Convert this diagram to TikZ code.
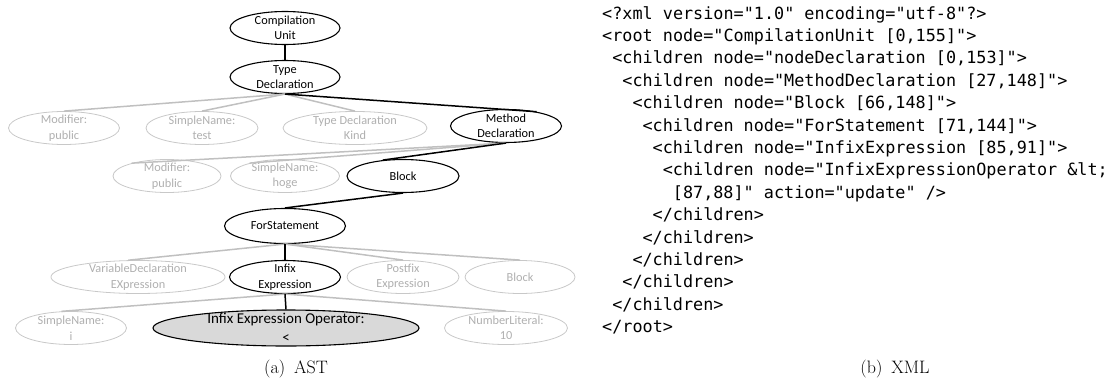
\documentclass[tikz,border=0pt]{standalone}
\usepackage{fontspec}
\newfontfamily\astfont{Carlito}
\newfontfamily\xmlfont{DejaVu Sans Mono}
\usetikzlibrary{shapes.geometric}
\definecolor{nodegray}{RGB}{200,200,200}
\definecolor{textgray}{RGB}{175,175,175}
\definecolor{linegray}{RGB}{192,192,192}
\definecolor{selfill}{RGB}{217,217,217}

\begin{document}
\begin{tikzpicture}
[x=1pt,y=-1pt,
 astnode/.style={ellipse,draw=black,line width=1.1pt,inner xsep=0pt,inner ysep=-4pt,
   minimum height=33pt,align=center,font=\astfont\fontsize{12.3}{15.5}\selectfont},
 grayast/.style={astnode,draw=nodegray,text=textgray,line width=0.8pt},
 blackedge/.style={line width=1.5pt},
 grayedge/.style={line width=1.5pt,draw=linegray},
 xmlline/.style={anchor=base west,inner sep=0pt,font=\xmlfont\fontsize{16.8}{22}\selectfont},
 captext/.style={font=\fontsize{18}{22}\selectfont}]
\useasboundingbox (0,0) rectangle (1110,380);
%% the AST
\node[astnode,minimum width=110pt] (cu) at (285,28) {Compilation\\Unit};
\node[astnode,minimum width=110pt] (td) at (285,77) {Type\\Declaration};
\node[grayast,minimum width=111pt] (mod) at (64,128) {Modifier:\\public};
\node[grayast,minimum width=112pt] (sntest) at (202,128) {SimpleName:\\test};
\node[grayast,minimum width=144pt] (tdk) at (355,128) {Type Declaration\\Kind};
\node[astnode,minimum width=111pt] (md) at (506,126) {Method\\Declaration};
\node[grayast,minimum width=108pt] (modp) at (167,176) {Modifier:\\public};
\node[grayast,minimum width=109pt] (snhoge) at (285,176) {SimpleName:\\hoge};
\node[astnode,minimum width=112pt] (blk) at (403,176) {Block};
\node[astnode,minimum width=121pt,minimum height=35pt] (fs) at (285,226) {ForStatement};
\node[grayast,minimum width=174pt] (vde) at (138,277) {VariableDeclaration\\EXpression};
\node[astnode,minimum width=111pt] (ie) at (285,277) {Infix\\Expression};
\node[grayast,minimum width=112pt] (pfe) at (403,277) {Postfix\\Expression};
\node[grayast,minimum width=110pt] (blktwo) at (520,277) {Block};
\node[grayast,minimum width=111pt] (sni) at (71,328) {SimpleName:\\i};
\node[astnode,fill=selfill,minimum width=266pt,minimum height=36pt,
  font=\astfont\fontsize{15}{18.6}\selectfont] (ieo) at (286,328) {Infix Expression Operator:\\<};
\node[grayast,minimum width=123pt] (numlit) at (506,328) {NumberLiteral:\\10};
%% edges that are not changed
\foreach \from/\to in {td.south/mod.north, td.south/sntest.north, td.south/tdk.north,
  md.south/modp.160, md.south/snhoge.160, fs.south/vde.120, fs.south/pfe.north,
  fs.south/blktwo.north, ie.south/sni.120, ie.south/numlit.north}
{
  \draw[grayedge] (\from) -- (\to);
}
%% path to the updated node
\foreach \from/\to in {cu.south/td.north, td.south/md.25, md.south/blk.142,
  blk.south/fs.north, fs.south/ie.north, ie.south/ieo.north}
{
  \draw[blackedge] (\from) -- (\to);
}
%% the XML
\foreach \ind/\txt [count=\i] in {
  0/{<?xml version="1.0" encoding="utf-8"?>},
  0/{<root node="CompilationUnit [0,155]">},
  1/{<children node="nodeDeclaration [0,153]">},
  2/{<children node="MethodDeclaration [27,148]">},
  3/{<children node="Block [66,148]">},
  4/{<children node="ForStatement [71,144]">},
  5/{<children node="InfixExpression [85,91]">},
  6/{<children node="InfixExpressionOperator \&lt;},
  7/{[87,88]" action="update" />},
  5/{</children>},
  4/{</children>},
  3/{</children>},
  2/{</children>},
  1/{</children>},
  0/{</root>}}
{
  \node[xmlline] (xml\i) at (602+\ind*10.1,-3.4+\i*22.4) {\txt};
}
%% captions
\node[captext] (capa) at (296,369) {(a)\hspace{0.5em}AST};
\node[captext] (capb) at (895,369) {(b)\hspace{0.5em}XML};
\end{tikzpicture}
\end{document}
